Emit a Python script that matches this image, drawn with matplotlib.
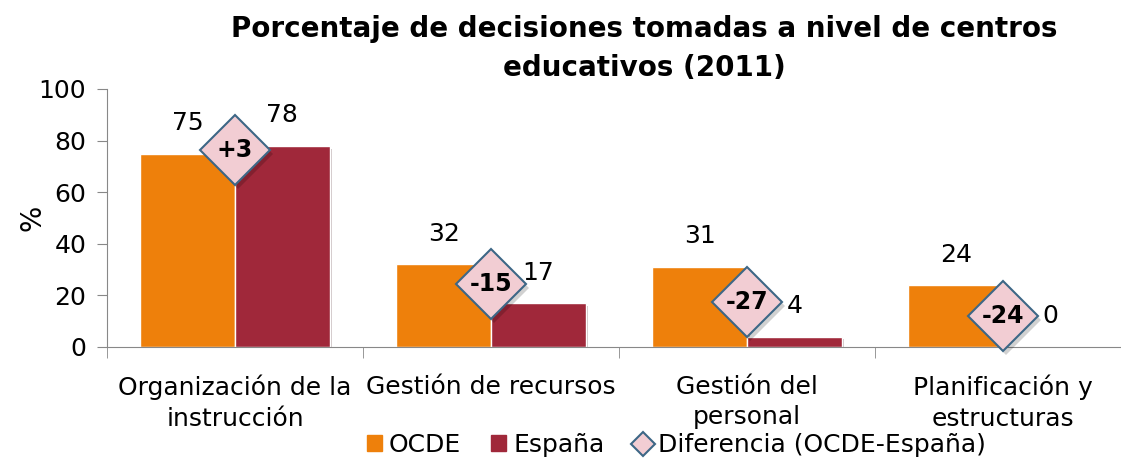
import numpy as np
import matplotlib
matplotlib.use("Agg")
import matplotlib.pyplot as plt
import matplotlib.patheffects as pe
import matplotlib.transforms as mtransforms
from matplotlib.lines import Line2D
from matplotlib.patches import Patch

# data
categorias = ["Organización de la\ninstrucción", "Gestión de recursos",
              "Gestión del\npersonal", "Planificación y\nestructuras"]
ocde = [75, 32, 31, 24]
espana = [78, 17, 4, 0]
diferencia = ["+3", "-15", "-27", "-24"]

c_ocde = "#EE800B"
c_esp = "#A0283A"
c_dif = "#F2CDD3"
c_edge = "#3D6786"

plt.rcParams['font.family'] = ['DejaVu Sans']

fig = plt.figure(figsize=(11.21, 4.59), dpi=100)
ax = fig.add_axes([107 / 1121, 112 / 459, 1024 / 1121, 258 / 459])

x = np.arange(len(categorias))
w = 0.37
shadow = [pe.SimplePatchShadow(offset=(2, -2), alpha=0.25), pe.Normal()]
b1 = ax.bar(x - w / 2, ocde, w, color=c_ocde, edgecolor="white", linewidth=1, zorder=2)
b2 = ax.bar(x + w / 2, espana, w, color=c_esp, edgecolor="white", linewidth=1, zorder=2)
for b in list(b1) + list(b2):
    b.set_path_effects(shadow)

for xi, v in zip(x - w / 2, ocde):
    ax.annotate(str(v), (xi, v), xytext=(0, 22), textcoords="offset points",
                ha="center", va="center", fontsize=18)
for xi, v in zip(x + w / 2, espana):
    ax.annotate(str(v), (xi, v), xytext=(0, 22), textcoords="offset points",
                ha="center", va="center", fontsize=18)

# diamonds sit midway between the two bars
mid = [(a + b) / 2 for a, b in zip(ocde, espana)]
shadow_tr = mtransforms.offset_copy(ax.transData, fig=fig, x=2, y=-3, units="points")
ax.plot(x, mid, linestyle="none", marker="D", markersize=36, color="black",
        alpha=0.18, markeredgewidth=0, zorder=3, clip_on=False, transform=shadow_tr)
ax.plot(x, mid, linestyle="none", marker="D", markersize=36,
        markerfacecolor=c_dif, markeredgecolor=c_edge, markeredgewidth=1.5,
        zorder=4, clip_on=False)
for xi, yi, t in zip(x, mid, diferencia):
    ax.text(xi, yi, t, ha="center", va="center", fontsize=17, fontweight="bold", zorder=5)

ax.set_xlim(-0.5, 3.5)
ax.set_ylim(0, 100)
ax.set_yticks(range(0, 101, 20))
ax.tick_params(axis="y", labelsize=18, length=7, color="#888888", pad=8)
ax.set_xticks(x)
ax.set_xticklabels(categorias, fontsize=18, linespacing=1.35)
ax.tick_params(axis="x", length=0, pad=20)
ax.set_xticks(np.arange(-0.5, 4, 1), minor=True)
ax.tick_params(axis="x", which="minor", length=8, color="#888888")
for s in ["top", "right"]:
    ax.spines[s].set_visible(False)
ax.spines["left"].set_color("#888888")
ax.spines["bottom"].set_color("#888888")
ax.set_ylabel("%", fontsize=20, labelpad=-6)

fig.suptitle("Porcentaje de decisiones tomadas a nivel de centros\neducativos (2011)",
             x=0.575, y=0.968, fontsize=20, fontweight="bold", linespacing=1.5)

handles = [Patch(color=c_ocde, label="OCDE"), Patch(color=c_esp, label="España"),
           Line2D([], [], linestyle="none", marker="D", markersize=12,
                  markerfacecolor=c_dif, markeredgecolor=c_edge, markeredgewidth=1.5,
                  label="Diferencia (OCDE-España)")]
fig.legend(handles=handles, loc="lower center", bbox_to_anchor=(0.603, -0.045), ncol=3,
           frameon=False, fontsize=18, handlelength=0.6, handleheight=0.6,
           handletextpad=0.3, columnspacing=1.2)

fig.savefig("out.png", dpi=100)
